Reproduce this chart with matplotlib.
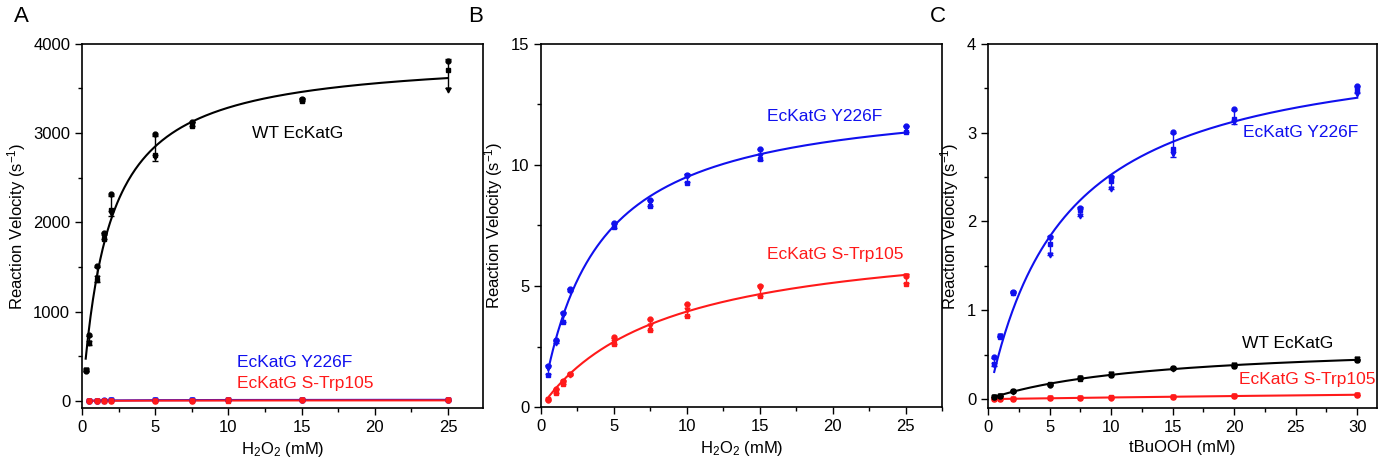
import matplotlib
matplotlib.use('Agg')
import matplotlib.pyplot as plt
from matplotlib.ticker import MultipleLocator
import numpy as np

plt.rcParams['font.family'] = ['Liberation Sans', 'DejaVu Sans']
plt.rcParams['mathtext.fontset'] = 'custom'
plt.rcParams['mathtext.rm'] = 'Liberation Sans'
plt.rcParams['mathtext.it'] = 'Liberation Sans'

# H2O2 series (panels A and B), three replicates per concentration
h2o2_wt = [0.25, 0.5, 1, 1.5, 2, 5, 7.5, 15, 25]
wt_h2o2 = [[330, 345, 350], [740, 643, 650], [1510, 1353, 1372], [1877, 1809, 1840],
           [2314, 2138, 2101], [2987, 2755, 2736], [3121, 3080, 3100],
           [3387, 3361, 3372], [3809, 3708, 3484]]

h2o2_mut = [0.5, 1, 1.5, 2, 5, 7.5, 10, 15, 25]
y226f_h2o2 = [[1.68, 1.34, 1.61], [2.78, 2.71, 2.64], [3.88, 3.50, 3.82], [4.88, 4.82, 4.78],
              [7.60, 7.42, 7.49], [8.53, 8.29, 8.47], [9.57, 9.26, 9.53],
              [10.67, 10.25, 10.36], [11.60, 11.36, 11.53]]
strp_h2o2 = [[0.30, 0.34, 0.28], [0.74, 0.58, 0.65], [1.09, 0.96, 1.02], [1.36, 1.38, 1.34],
             [2.88, 2.62, 2.67], [3.64, 3.20, 3.33], [4.26, 3.77, 4.02],
             [4.99, 4.57, 4.92], [5.43, 5.10, 5.40]]

# tBuOOH series (panel C)
tbu = [0.5, 1, 2, 5, 7.5, 10, 15, 20, 30]
y226f_tbu = [[0.47, 0.40, 0.38], [0.71, 0.70, 0.71], [1.21, 1.19, 1.20], [1.83, 1.75, 1.62],
             [2.15, 2.13, 2.06], [2.50, 2.45, 2.36], [3.01, 2.81, 2.76],
             [3.27, 3.15, 3.12], [3.52, 3.49, 3.44]]
wt_tbu = [[0.02, 0.02, 0.02], [0.04, 0.04, 0.04], [0.09, 0.09, 0.08], [0.16, 0.17, 0.16],
          [0.24, 0.23, 0.24], [0.27, 0.27, 0.28], [0.35, 0.35, 0.34],
          [0.37, 0.37, 0.38], [0.44, 0.44, 0.45]]
strp_tbu = [[0.003, 0.003, 0.003], [0.004, 0.004, 0.004], [0.005, 0.006, 0.005],
            [0.010, 0.010, 0.011], [0.014, 0.014, 0.015], [0.018, 0.019, 0.018],
            [0.025, 0.026, 0.025], [0.035, 0.034, 0.035], [0.049, 0.050, 0.049]]

BLUE = '#1010ee'
RED = '#ff1a1a'
BLACK = '#000000'


def mm_fit(x, reps):
    # least squares Michaelis-Menten fit: grid over Km, closed-form Vmax
    xs = np.repeat(np.asarray(x, float), 3)
    ys = np.asarray(reps, float).ravel()
    best = None
    for km in np.linspace(0.05, 2000, 40000):
        f = xs / (km + xs)
        vmax = (ys * f).sum() / (f * f).sum()
        err = ((ys - vmax * f) ** 2).sum()
        if best is None or err < best[0]:
            best = (err, vmax, km)
    return best[1], best[2]


def draw(ax, x, reps, color):
    x = np.asarray(x, float)
    r = np.asarray(reps, float)
    vmax, km = mm_fit(x, reps)
    xx = np.linspace(x.min(), x.max(), 300)
    ax.plot(xx, vmax * xx / (km + xx), color=color, lw=1.5, zorder=3)
    ax.errorbar(x, r.mean(axis=1), yerr=r.std(axis=1, ddof=1), fmt='none',
                ecolor=color, elinewidth=1.0, capsize=2, capthick=1.0, zorder=4)
    for i, m in enumerate(['o', 's', 'v']):
        ax.plot(x, r[:, i], ls='none', marker=m, ms=3.5, color=color,
                mec=color, zorder=5)


def style(ax, xmaj, ymaj):
    ax.xaxis.set_major_locator(MultipleLocator(xmaj))
    ax.xaxis.set_minor_locator(MultipleLocator(xmaj / 2))
    ax.yaxis.set_major_locator(MultipleLocator(ymaj))
    ax.yaxis.set_minor_locator(MultipleLocator(ymaj / 2))
    ax.tick_params(which='major', direction='out', length=5, width=1, labelsize=12)
    ax.tick_params(which='minor', direction='out', length=3, width=1)
    for s in ax.spines.values():
        s.set_linewidth(1.2)
    ax.set_ylabel('Reaction Velocity (s$^{-1}$)', fontsize=12)


fig = plt.figure(figsize=(13.79, 4.61), dpi=100)
axA = fig.add_axes([0.0595, 0.115, 0.2908, 0.790])
axB = fig.add_axes([0.3923, 0.117, 0.2908, 0.788])
axC = fig.add_axes([0.7165, 0.115, 0.2820, 0.790])

# Panel A
draw(axA, h2o2_mut, y226f_h2o2, BLUE)
draw(axA, h2o2_mut, strp_h2o2, RED)
draw(axA, h2o2_wt, wt_h2o2, BLACK)
axA.set_xlim(0, 27.4)
axA.set_ylim(-80, 4000)
style(axA, 5, 1000)
axA.set_xlabel('H$_2$O$_2$ (mM)', fontsize=12)
axA.text(11.6, 3000, 'WT EcKatG', color=BLACK, fontsize=12.5, va='center')
axA.text(10.6, 426, 'EcKatG Y226F', color=BLUE, fontsize=12.5, va='center')
axA.text(10.6, 190, 'EcKatG S-Trp105', color=RED, fontsize=12.5, va='center')

# Panel B
draw(axB, h2o2_mut, y226f_h2o2, BLUE)
draw(axB, h2o2_mut, strp_h2o2, RED)
axB.set_xlim(0, 27.5)
axB.set_ylim(0, 15)
style(axB, 5, 5)
axB.set_xlabel('H$_2$O$_2$ (mM)', fontsize=12)
axB.text(15.5, 12.0, 'EcKatG Y226F', color=BLUE, fontsize=12.5, va='center')
axB.text(15.5, 6.3, 'EcKatG S-Trp105', color=RED, fontsize=12.5, va='center')

# Panel C
draw(axC, tbu, y226f_tbu, BLUE)
draw(axC, tbu, strp_tbu, RED)
draw(axC, tbu, wt_tbu, BLACK)
axC.set_xlim(0, 31.6)
axC.set_ylim(-0.1, 4)
style(axC, 5, 1)
axC.set_xlabel('tBuOOH (mM)', fontsize=12)
axC.text(20.7, 3.0, 'EcKatG Y226F', color=BLUE, fontsize=12.5, va='center')
axC.text(20.6, 0.63, 'WT EcKatG', color=BLACK, fontsize=12.5, va='center')
axC.text(20.4, 0.225, 'EcKatG S-Trp105', color=RED, fontsize=12.5, va='center')

for lab, xp in [('A', 14), ('B', 468), ('C', 930)]:
    fig.text(xp / 1379, 1 - 17 / 461, lab, fontsize=16, va='center', ha='left')

plt.savefig('out.png', dpi=100)
plt.close()
